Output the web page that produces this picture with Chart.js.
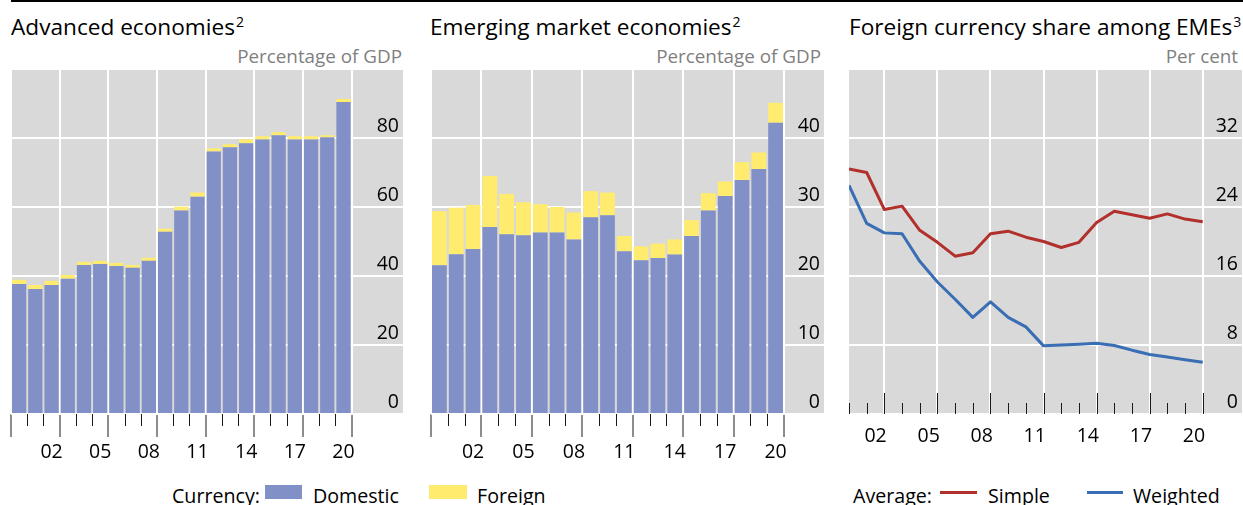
<!DOCTYPE html>
<html><head><meta charset="utf-8">
<script src="https://cdn.jsdelivr.net/npm/chart.js@4.4.1/dist/chart.umd.min.js"></script>
<style>
html,body{margin:0;padding:0;background:#fff;width:1243px;height:505px;overflow:hidden;font-family:'Open Sans',sans-serif;}
.abs{position:absolute;white-space:nowrap;line-height:1;}
.title{font-size:22px;color:#000;}
.title sup{font-size:0.62em;vertical-align:baseline;position:relative;top:-0.62em;line-height:0;margin-left:1px;}
.unit{font-size:18px;color:#7f7f7f;}
.leg{font-size:19px;color:#000;}
canvas{position:absolute;}
</style></head>
<body>
<div class="abs" style="left:11px;top:0;width:1232px;height:2px;background:#000"></div>

<div class="abs title" id="t1" style="left:11px;top:16px"><span>Advanced economies</span><sup>2</sup></div>
<div class="abs unit" id="u1" style="right:841px;top:47px">Percentage of GDP</div>
<div class="abs title" id="t2" style="left:430px;top:16px"><span>Emerging market economies</span><sup>2</sup></div>
<div class="abs unit" id="u2" style="right:422px;top:47px">Percentage of GDP</div>
<div class="abs title" id="t3" style="left:849px;top:16px"><span>Foreign currency share among EMEs</span><sup>3</sup></div>
<div class="abs unit" id="u3" style="right:5px;top:47px">Per cent</div>

<canvas id="c1" width="412" height="430" style="left:1px;top:44px;width:412px;height:430px"></canvas>
<canvas id="c2" width="413" height="430" style="left:421px;top:44px;width:413px;height:430px"></canvas>
<canvas id="c3" width="404" height="430" style="left:839px;top:44px;width:404px;height:430px"></canvas>

<div class="abs leg" id="l1" style="left:172px;top:486px">Currency:</div>
<div class="abs" style="left:265px;top:485px;width:37px;height:14px;background:#8190C6"></div>
<div class="abs leg" id="l2" style="left:313px;top:486px">Domestic</div>
<div class="abs" style="left:429px;top:485px;width:38px;height:14px;background:#FFEB6E"></div>
<div class="abs leg" id="l3" style="left:477px;top:486px">Foreign</div>

<div class="abs leg" id="l4" style="left:853px;top:486px">Average:</div>
<div class="abs" style="left:940px;top:491px;width:37px;height:3px;background:#B2302C"></div>
<div class="abs leg" id="l5" style="left:988px;top:486px">Simple</div>
<div class="abs" style="left:1087px;top:491px;width:36px;height:3px;background:#3A6EB4"></div>
<div class="abs leg" id="l6" style="left:1133px;top:486px">Weighted</div>

<script>
// ---- data ----
const years = [2000,2001,2002,2003,2004,2005,2006,2007,2008,2009,2010,2011,2012,2013,2014,2015,2016,2017,2018,2019,2020];
const tickYears = [2002,2005,2008,2011,2014,2017,2020];
const tickLabels = ['02','05','08','11','14','17','20'];

const advDomestic = [37.7,36.2,37.4,39.2,43.2,43.5,42.9,42.4,44.4,52.8,59.0,63.0,76.1,77.3,78.5,79.6,80.8,79.6,79.6,80.2,90.4];
const advForeign  = [1.2,1.2,1.2,1.1,0.9,0.9,0.9,0.8,0.9,0.9,1.1,1.2,0.9,0.9,1.1,0.9,0.9,0.9,0.9,0.6,0.9];

const emeDomestic = [21.55,23.15,23.9,27.1,26.05,25.9,26.3,26.3,25.3,28.5,28.8,23.6,22.3,22.6,23.1,25.8,29.5,31.6,33.9,35.5,42.2];
const emeForeign  = [7.85,6.75,6.4,7.4,5.85,4.8,4.1,3.7,3.9,3.8,3.3,2.2,2.0,2.1,2.2,2.3,2.5,2.1,2.6,2.4,2.9];

const shareSimple   = [28.4,28.0,23.7,24.1,21.3,19.9,18.3,18.7,20.9,21.2,20.5,20.0,19.3,19.9,22.2,23.5,23.1,22.7,23.2,22.6,22.3];
const shareWeighted = [26.5,22.1,21.0,20.9,17.7,15.3,13.3,11.2,13.0,11.2,10.1,7.9,8.0,8.1,8.2,7.95,7.4,6.9,6.6,6.3,6.0];

// ---- text sizing (fit measured widths of the reference) ----
const mctx = document.createElement('canvas').getContext('2d');
function sizeFor(text, targetW) {
  mctx.font = "100px 'Open Sans'";
  return 100 * targetW / mctx.measureText(text).width;
}
function place(id, size, baseline) {
  const el = document.getElementById(id);
  el.style.fontSize = size + 'px';
  el.style.top = (baseline - 0.888 * size) + 'px';
}
const titleSize = sizeFor('Advanced economies', 224);
['t1','t2','t3'].forEach(id => place(id, titleSize, 36.5));
const unitSize = sizeFor('Percentage of GDP', 165);
['u1','u2','u3'].forEach(id => place(id, unitSize, 63.5));
const legSize = (sizeFor('Currency:', 87) + sizeFor('Domestic', 87)) / 2;
['l1','l2','l3','l4','l5','l6'].forEach(id => place(id, legSize, 503));

// ---- styling ----
const DOM_COLOR = '#8190C6', FOR_COLOR = '#FFEB6E', RED = '#B2302C', BLUE = '#3A6EB4';
const BG = '#D9D9D9';
Chart.defaults.font.family = "'Open Sans', sans-serif";
Chart.defaults.color = '#000';

const bgPlugin = {
  id: 'bgFill',
  beforeDraw(chart) {
    const a = chart.chartArea, ctx = chart.ctx;
    ctx.save(); ctx.fillStyle = BG; ctx.fillRect(a.left, a.top, a.right - a.left, a.bottom - a.top); ctx.restore();
  }
};

const barMinor = {
  id: 'barMinor',
  afterDraw(chart) {
    const x = chart.scales.x, ctx = chart.ctx, b = chart.chartArea.bottom;
    ctx.save(); ctx.strokeStyle = '#1a1a1a'; ctx.lineWidth = 1;
    years.forEach(yr => {
      if (tickYears.includes(yr)) return;
      const px = Math.round(x.getPixelForValue(yr + 0.5)) + 0.5;
      ctx.beginPath(); ctx.moveTo(px, b); ctx.lineTo(px, b + 12); ctx.stroke();
    });
    ctx.restore();
  }
};

const lineTicks = {
  id: 'lineTicks',
  afterDatasetsDraw(chart) {
    const x = chart.scales.x, ctx = chart.ctx, b = chart.chartArea.bottom;
    ctx.save(); ctx.strokeStyle = '#1a1a1a'; ctx.lineWidth = 1;
    years.forEach(yr => {
      const len = tickYears.includes(yr) ? 21 : 11;
      const px = Math.round(x.getPixelForValue(yr)) + 0.5;
      ctx.beginPath(); ctx.moveTo(px, b); ctx.lineTo(px, b - len); ctx.stroke();
    });
    ctx.restore();
  }
};

function yAxis(max, step) {
  return {
    position: 'right', min: 0, max: max,
    ticks: { stepSize: step, mirror: true, padding: -4, labelOffset: -12, color: '#000', font: { size: 19.5 },
             callback: v => (v === max ? '' : v) },
    grid: { color: '#fff', lineWidth: 2, drawTicks: false },
    border: { display: false },
    afterFit(s) { s.width = 0; }
  };
}

function barChart(id, dom, fore, yMax, yStep, xMax, lblOff) {
  return new Chart(document.getElementById(id), {
    type: 'bar',
    data: {
      datasets: [
        { label: 'Domestic', data: years.map((y, i) => ({ x: y, y: dom[i] })), backgroundColor: DOM_COLOR,
          barPercentage: 0.88, categoryPercentage: 1 },
        { label: 'Foreign', data: years.map((y, i) => ({ x: y, y: fore[i] })), backgroundColor: FOR_COLOR,
          barPercentage: 0.88, categoryPercentage: 1 }
      ]
    },
    options: {
      responsive: false, animation: false,
      layout: { padding: { left: 10, right: 10, top: 25, bottom: 0 } },
      plugins: { legend: { display: false }, tooltip: { enabled: false } },
      scales: {
        x: {
          type: 'linear', stacked: true, offset: false, min: 1999.5, max: xMax,
          afterBuildTicks(s) { s.ticks = [1999.5].concat(tickYears.map(y => y + 0.5)).map(v => ({ value: v })); },
          ticks: { labelOffset: lblOff, padding: 4, maxRotation: 0, autoSkip: false, color: '#000', font: { size: 19.5 },
                   callback: v => { const i = tickYears.indexOf(Math.round(v - 0.5)); return i >= 0 ? tickLabels[i] : ''; } },
          grid: { offset: false, color: '#fff', lineWidth: 2, tickColor: '#1a1a1a', tickWidth: 1, tickLength: 23 },
          border: { display: false },
          afterFit(s) { s.height = 60; }
        },
        y: Object.assign(yAxis(yMax, yStep), { stacked: true })
      }
    },
    plugins: [bgPlugin, barMinor]
  });
}

barChart('c1', advDomestic, advForeign, 100, 20, 2023.67, -8.1);
barChart('c2', emeDomestic, emeForeign, 50, 10, 2022.88, -8.4);

new Chart(document.getElementById('c3'), {
  type: 'line',
  data: {
    datasets: [
      { label: 'Simple', data: years.map((y, i) => ({ x: y, y: shareSimple[i] })), borderColor: RED, borderWidth: 3,
        pointRadius: 0, tension: 0, borderJoinStyle: 'round' },
      { label: 'Weighted', data: years.map((y, i) => ({ x: y, y: shareWeighted[i] })), borderColor: BLUE, borderWidth: 3,
        pointRadius: 0, tension: 0, borderJoinStyle: 'round' }
    ]
  },
  options: {
    responsive: false, animation: false,
    layout: { padding: { left: 10, right: 1, top: 25, bottom: 0 } },
    plugins: { legend: { display: false }, tooltip: { enabled: false } },
    scales: {
      x: {
        type: 'linear', min: 2000, max: 2022.22,
        afterBuildTicks(s) { s.ticks = tickYears.map(v => ({ value: v })); },
        ticks: { labelOffset: -8.8, padding: 11, maxRotation: 0, autoSkip: false, color: '#000', font: { size: 19.5 },
                 callback: v => { const i = tickYears.indexOf(v); return i >= 0 ? tickLabels[i] : ''; } },
        grid: { color: '#fff', lineWidth: 2, drawTicks: false },
        border: { display: false },
        afterFit(s) { s.height = 60; }
      },
      y: yAxis(40, 8)
    }
  },
  plugins: [bgPlugin, lineTicks]
});
</script>
</body></html>
